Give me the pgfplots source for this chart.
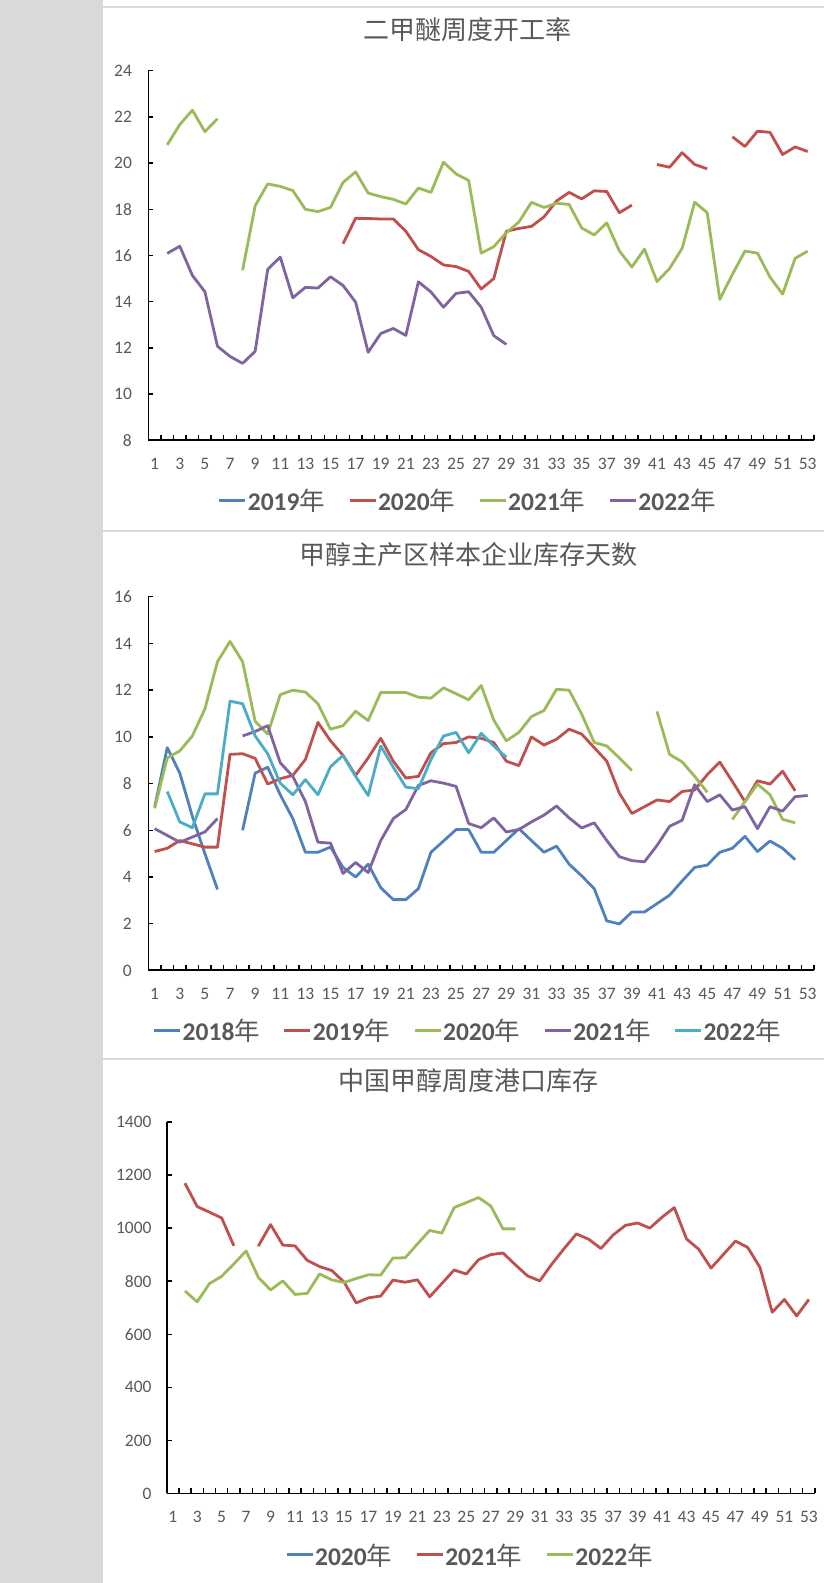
\documentclass[border=0pt]{standalone}
\usepackage{fontspec}
\setmainfont{Carlito}
\newfontfamily\cjk{Noto Sans CJK SC}
\usepackage{pgfplots}
\pgfplotsset{compat=1.18}
\definecolor{xblue}{HTML}{4F81BD}
\definecolor{xred}{HTML}{C0504D}
\definecolor{xgreen}{HTML}{9BBB59}
\definecolor{xpurple}{HTML}{8064A2}
\definecolor{xcyan}{HTML}{4BACC6}
\definecolor{lgray}{HTML}{595959}
\definecolor{sgray}{HTML}{D9D9D9}
\pgfplotsset{
 mystyle/.style={
  scale only axis, axis lines=left, axis line style={-, line width=1.8pt, black},
  xmin=0.5, xmax=53.5, xtick={1,3,...,53}, minor xtick={0.5,1.5,...,53.5},
  tick align=inside, major tick length=5pt, minor tick length=5pt,
  tick style={black, line width=1.4pt},
  major x tick style={draw=none},
  tick label style={font=\fontsize{17.5}{18}\selectfont, text=lgray},
  xticklabel style={yshift=-14pt}, yticklabel style={xshift=-13pt},
  /pgf/number format/assume math mode=true, /pgf/number format/1000 sep={},
  scaled y ticks=false,
  unbounded coords=jump,
  legend columns=-1,
  legend style={draw=none, fill=none, font=\fontsize{25.5}{26}\selectfont, text=lgray, anchor=center,
    /tikz/every even column/.append style={column sep=22pt}, nodes={inner sep=1pt}},
  legend image code/.code={\draw[##1, line width=3pt] (0pt,0pt) -- (26pt,0pt);},
  title style={font=\cjk\fontsize{26}{26}\selectfont, text=lgray, anchor=center},
  every axis plot/.append style={line width=2.8pt, line join=round, no marks},
 }
}
\begin{document}
\begin{tikzpicture}
\path[use as bounding box] (0,0) rectangle (824pt,1583pt);
\fill[white] (0,0) rectangle (824pt,1583pt);
\fill[sgray] (0,0) rectangle (103pt,1583pt);
\draw[sgray, line width=2pt] (103pt,1575.5pt) -- (824pt,1575.5pt);
\draw[sgray, line width=2pt] (103pt,1051.5pt) -- (824pt,1051.5pt);
\draw[sgray, line width=2pt] (103pt,524pt) -- (824pt,524pt);

% Chart 1
\begin{axis}[mystyle, at={(148.4pt,1142.7pt)}, anchor=south west, width=665.6pt, height=369.6pt,
  ymin=8, ymax=24, ytick={8,10,...,24},
  title={二甲醚周度开工率}, title style={at={(0.479,1.0958)}},
  legend style={at={(0.479,-0.164)}}]
\addlegendimage{xblue}\addlegendentry{\textbf{2019}{\cjk 年}}
\addplot[xred] coordinates {(16,16.51)(17,17.61)(18,17.6)(19,17.58)(20,17.58)(21,17.05)(22,16.25)(23,15.96)(24,15.59)(25,15.52)(26,15.31)(27,14.55)(28,15.0)(29,17.05)(30,17.17)(31,17.26)(32,17.67)(33,18.36)(34,18.73)(35,18.45)(36,18.8)(37,18.77)(38,17.85)(39,18.18)(40,nan)(41,19.94)(42,19.82)(43,20.45)(44,19.94)(45,19.75)(46,nan)(47,21.14)(48,20.72)(49,21.38)(50,21.33)(51,20.37)(52,20.7)(53,20.5)};
\addlegendentry{\textbf{2020}{\cjk 年}}
\addplot[xgreen] coordinates {(2,20.79)(3,21.67)(4,22.29)(5,21.36)(6,21.92)(7,nan)(8,15.36)(9,18.15)(10,19.1)(11,18.99)(12,18.81)(13,18.0)(14,17.9)(15,18.08)(16,19.16)(17,19.62)(18,18.7)(19,18.55)(20,18.43)(21,18.23)(22,18.92)(23,18.73)(24,20.04)(25,19.53)(26,19.25)(27,16.1)(28,16.38)(29,16.98)(30,17.45)(31,18.3)(32,18.08)(33,18.26)(34,18.21)(35,17.19)(36,16.89)(37,17.41)(38,16.2)(39,15.5)(40,16.28)(41,14.87)(42,15.44)(43,16.31)(44,18.31)(45,17.85)(46,14.1)(47,15.18)(48,16.19)(49,16.1)(50,15.06)(51,14.33)(52,15.88)(53,16.19)};
\addlegendentry{\textbf{2021}{\cjk 年}}
\addplot[xpurple] coordinates {(2,16.09)(3,16.4)(4,15.14)(5,14.43)(6,12.07)(7,11.63)(8,11.33)(9,11.85)(10,15.4)(11,15.93)(12,14.17)(13,14.62)(14,14.59)(15,15.08)(16,14.7)(17,13.98)(18,11.81)(19,12.62)(20,12.84)(21,12.54)(22,14.86)(23,14.42)(24,13.76)(25,14.36)(26,14.43)(27,13.76)(28,12.53)(29,12.15)};
\addlegendentry{\textbf{2022}{\cjk 年}}
\end{axis}

% Chart 2
\begin{axis}[mystyle, at={(148.4pt,612.6pt)}, anchor=south west, width=665.6pt, height=373.6pt,
  ymin=0, ymax=16, ytick={0,2,...,16},
  title={甲醇主产区样本企业库存天数}, title style={at={(0.481,1.0974)}},
  legend style={at={(0.479,-0.162)}}]
\addplot[xblue] coordinates {(1,7.0)(2,9.54)(3,8.45)(4,6.6)(5,5.0)(6,3.47)(7,nan)(8,6.0)(9,8.45)(10,8.7)(11,7.52)(12,6.5)(13,5.06)(14,5.06)(15,5.28)(16,4.41)(17,4.0)(18,4.55)(19,3.54)(20,3.03)(21,3.03)(22,3.5)(23,5.06)(24,5.54)(25,6.03)(26,6.03)(27,5.06)(28,5.06)(29,5.56)(30,6.07)(31,5.56)(32,5.06)(33,5.32)(34,4.55)(35,4.05)(36,3.5)(37,2.12)(38,1.99)(39,2.5)(40,2.5)(41,2.86)(42,3.22)(43,3.83)(44,4.41)(45,4.51)(46,5.06)(47,5.23)(48,5.74)(49,5.09)(50,5.54)(51,5.23)(52,4.74)};
\addlegendentry{\textbf{2018}{\cjk 年}}
\addplot[xred] coordinates {(1,5.09)(2,5.23)(3,5.56)(4,5.42)(5,5.28)(6,5.28)(7,9.25)(8,9.28)(9,9.08)(10,7.98)(11,8.21)(12,8.35)(13,9.03)(14,10.62)(15,9.83)(16,9.21)(17,8.35)(18,9.1)(19,9.94)(20,8.96)(21,8.24)(22,8.31)(23,9.32)(24,9.71)(25,9.76)(26,10.0)(27,9.94)(28,9.76)(29,8.96)(30,8.77)(31,10.0)(32,9.65)(33,9.9)(34,10.33)(35,10.12)(36,9.54)(37,8.96)(38,7.59)(39,6.72)(40,7.01)(41,7.3)(42,7.23)(43,7.66)(44,7.73)(45,8.38)(46,8.92)(47,8.09)(48,7.23)(49,8.12)(50,7.98)(51,8.53)(52,7.69)};
\addlegendentry{\textbf{2019}{\cjk 年}}
\addplot[xgreen] coordinates {(1,6.94)(2,9.1)(3,9.4)(4,10.04)(5,11.2)(6,13.22)(7,14.09)(8,13.22)(9,10.67)(10,10.12)(11,11.81)(12,12.0)(13,11.92)(14,11.42)(15,10.33)(16,10.48)(17,11.1)(18,10.7)(19,11.9)(20,11.9)(21,11.9)(22,11.7)(23,11.66)(24,12.1)(25,11.85)(26,11.59)(27,12.2)(28,10.72)(29,9.83)(30,10.19)(31,10.87)(32,11.13)(33,12.04)(34,12.0)(35,10.98)(36,9.76)(37,9.61)(38,9.1)(39,8.56)(40,nan)(41,11.09)(42,9.25)(43,8.93)(44,8.31)(45,7.63)(46,nan)(47,6.46)(48,7.23)(49,7.98)(50,7.52)(51,6.47)(52,6.32)};
\addlegendentry{\textbf{2020}{\cjk 年}}
\addplot[xpurple] coordinates {(1,6.07)(2,5.78)(3,5.49)(4,5.71)(5,5.93)(6,6.5)(7,nan)(8,10.04)(9,10.23)(10,10.48)(11,8.89)(12,8.31)(13,7.23)(14,5.49)(15,5.45)(16,4.15)(17,4.62)(18,4.19)(19,5.56)(20,6.5)(21,6.89)(22,7.92)(23,8.12)(24,8.02)(25,7.88)(26,6.29)(27,6.11)(28,6.53)(29,5.93)(30,6.03)(31,6.36)(32,6.65)(33,7.04)(34,6.53)(35,6.1)(36,6.32)(37,5.56)(38,4.87)(39,4.7)(40,4.65)(41,5.35)(42,6.17)(43,6.43)(44,7.95)(45,7.23)(46,7.52)(47,6.87)(48,7.01)(49,6.07)(50,7.01)(51,6.82)(52,7.44)(53,7.49)};
\addlegendentry{\textbf{2021}{\cjk 年}}
\addplot[xcyan] coordinates {(2,7.66)(3,6.36)(4,6.11)(5,7.56)(6,7.56)(7,11.53)(8,11.42)(9,10.04)(10,9.28)(11,8.02)(12,7.52)(13,8.17)(14,7.52)(15,8.72)(16,9.21)(17,8.31)(18,7.49)(19,9.61)(20,8.7)(21,7.85)(22,7.78)(23,9.03)(24,10.04)(25,10.19)(26,9.32)(27,10.15)(28,9.61)(29,9.13)};
\addlegendentry{\textbf{2022}{\cjk 年}}
\end{axis}

% Chart 3
\begin{axis}[mystyle, at={(166.6pt,89.5pt)}, anchor=south west, width=648.4pt, height=371.6pt,
  ymin=0, ymax=1400, ytick={0,200,...,1400}, yticklabel style={xshift=1.5pt},
  title={中国甲醇周度港口库存}, title style={at={(0.4656,1.0953)}},
  legend style={at={(0.467,-0.1655)}}]
\addlegendimage{xblue}\addlegendentry{\textbf{2020}{\cjk 年}}
\addplot[xred] coordinates {(2,1169)(3,1081)(4,1060)(5,1038)(6,933)(7,nan)(8,932)(9,1013)(10,936)(11,933)(12,878)(13,855)(14,840)(15,797)(16,718)(17,737)(18,744)(19,804)(20,796)(21,805)(22,741)(23,791)(24,842)(25,827)(26,881)(27,900)(28,906)(29,862)(30,820)(31,801)(32,865)(33,923)(34,978)(35,958)(36,923)(37,974)(38,1010)(39,1019)(40,1000)(41,1041)(42,1077)(43,959)(44,920)(45,849)(46,900)(47,951)(48,927)(49,852)(50,683)(51,731)(52,669)(53,731)};
\addlegendentry{\textbf{2021}{\cjk 年}}
\addplot[xgreen] coordinates {(2,763)(3,722)(4,791)(5,818)(6,865)(7,914)(8,814)(9,767)(10,801)(11,750)(12,754)(13,827)(14,805)(15,795)(16,810)(17,824)(18,823)(19,887)(20,888)(21,940)(22,991)(23,981)(24,1077)(25,1096)(26,1115)(27,1083)(28,997)(29,997)};
\addlegendentry{\textbf{2022}{\cjk 年}}
\end{axis}
\end{tikzpicture}
\end{document}
